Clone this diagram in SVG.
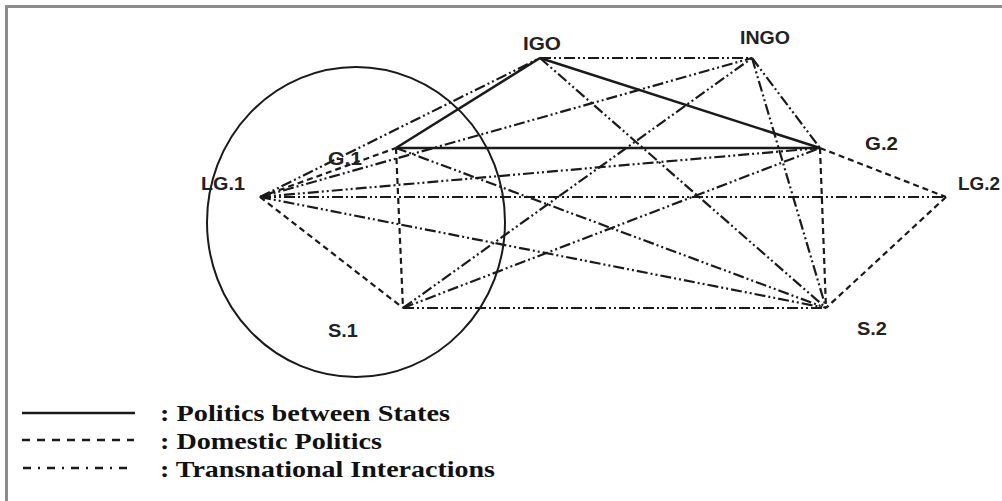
<svg xmlns="http://www.w3.org/2000/svg" width="1002" height="501" viewBox="0 0 1002 501">
<style>
.bg{fill:#ffffff}
.frame{fill:none;stroke:#8c8c8c;stroke-width:3}
.sol{stroke:#1a1a1a;stroke-width:2.5;fill:none}
.dom{stroke:#1a1a1a;stroke-width:2.2;fill:none;stroke-dasharray:6 4}
.tra{stroke:#1a1a1a;stroke-width:2.2;fill:none;stroke-dasharray:11 3 2 3 2 3}
.lbl{font-family:"Liberation Sans",Arial,sans-serif;font-weight:bold;font-size:18px;fill:#222}
.leg{font-family:"Liberation Serif","Times New Roman",serif;font-weight:bold;font-size:23px;fill:#111}
</style>
<rect class="bg" x="0" y="0" width="1002" height="501"/>
<path class="frame" d="M6.5,501 V6.5 H1002"/>
<ellipse cx="356" cy="222" rx="149" ry="155" fill="none" stroke="#1a1a1a" stroke-width="2"/>
<g id="connectors">
  <line class="sol" x1="396" y1="148" x2="540" y2="58"/>
  <line class="sol" x1="396" y1="148" x2="820" y2="148"/>
  <line class="sol" x1="540" y1="58" x2="820" y2="148"/>
  <line class="dom" x1="260" y1="197" x2="396" y2="148"/>
  <line class="dom" x1="260" y1="197" x2="403" y2="308"/>
  <line class="dom" x1="396" y1="148" x2="403" y2="308"/>
  <line class="dom" x1="820" y1="148" x2="946" y2="197"/>
  <line class="dom" x1="946" y1="197" x2="826" y2="308"/>
  <line class="dom" x1="820" y1="148" x2="826" y2="308"/>
  <line class="tra" x1="540" y1="58" x2="752" y2="58"/>
  <line class="tra" x1="260" y1="197" x2="540" y2="58"/>
  <line class="tra" x1="540" y1="58" x2="826" y2="308"/>
  <line class="tra" x1="260" y1="197" x2="752" y2="58"/>
  <line class="tra" x1="403" y1="308" x2="752" y2="58"/>
  <line class="tra" x1="752" y1="58" x2="820" y2="148"/>
  <line class="tra" x1="752" y1="58" x2="826" y2="308"/>
  <line class="tra" x1="260" y1="197" x2="820" y2="148"/>
  <line class="tra" x1="260" y1="197" x2="946" y2="197"/>
  <line class="tra" x1="260" y1="197" x2="826" y2="308"/>
  <line class="tra" x1="396" y1="148" x2="826" y2="308"/>
  <line class="tra" x1="403" y1="308" x2="820" y2="148"/>
  <line class="tra" x1="403" y1="308" x2="826" y2="308"/>
</g>
<g id="node-IGO"><text class="lbl" x="523" y="50" textLength="38" lengthAdjust="spacingAndGlyphs">IGO</text></g>
<g id="node-INGO"><text class="lbl" x="740" y="44" textLength="50" lengthAdjust="spacingAndGlyphs">INGO</text></g>
<g id="node-G1"><text class="lbl" x="328" y="165" textLength="34" lengthAdjust="spacingAndGlyphs">G.1</text></g>
<g id="node-G2"><text class="lbl" x="865" y="150" textLength="33" lengthAdjust="spacingAndGlyphs">G.2</text></g>
<g id="node-LG1"><text class="lbl" x="201" y="190" textLength="44" lengthAdjust="spacingAndGlyphs">LG.1</text></g>
<g id="node-LG2"><text class="lbl" x="958" y="190" textLength="42" lengthAdjust="spacingAndGlyphs">LG.2</text></g>
<g id="node-S1"><text class="lbl" x="328" y="337" textLength="30" lengthAdjust="spacingAndGlyphs">S.1</text></g>
<g id="node-S2"><text class="lbl" x="857" y="335" textLength="30" lengthAdjust="spacingAndGlyphs">S.2</text></g>
<g id="legend">
  <line x1="22" y1="413" x2="135" y2="413" stroke="#1a1a1a" stroke-width="2.5"/>
  <line x1="22" y1="440" x2="134" y2="440" stroke="#1a1a1a" stroke-width="2.5" stroke-dasharray="8 7"/>
  <line x1="23" y1="468" x2="128" y2="468" stroke="#1a1a1a" stroke-width="2.5" stroke-dasharray="8 7 2 7"/>
  <text class="leg" x="160" y="421" textLength="290" lengthAdjust="spacingAndGlyphs">: Politics between States</text>
  <text class="leg" x="160" y="449" textLength="222" lengthAdjust="spacingAndGlyphs">: Domestic Politics</text>
  <text class="leg" x="160" y="477" textLength="335" lengthAdjust="spacingAndGlyphs">: Transnational Interactions</text>
</g>
</svg>
